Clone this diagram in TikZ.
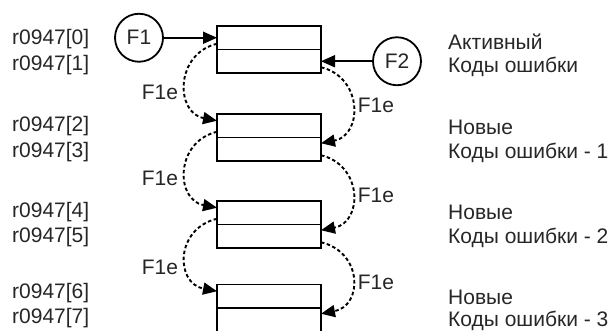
\documentclass[tikz,border=0pt]{standalone}
\usepackage{fontspec}
\setmainfont{Liberation Sans}
\usetikzlibrary{arrows.meta}
\begin{document}
\begin{tikzpicture}[x=1pt,y=-1pt,
  half/.style={draw, line width=1.9pt, minimum width=104pt, minimum height=23.5pt, inner sep=0pt, outer sep=0pt},
  src/.style={draw, circle, line width=1.8pt, minimum size=48pt, inner sep=0pt, font=\fontsize{21}{25}\selectfont, text=black!85},
  lbl/.style={font=\fontsize{21}{25}\selectfont, anchor=west, inner sep=0pt, text=black!85},
  fe/.style={font=\fontsize{21}{25}\selectfont, inner sep=0pt, text=black!85},
  tip/.style={-{Triangle[length=14pt,width=12pt]}, line width=1.8pt},
  dtip/.style={tip, line width=1.9pt, dash pattern=on 3.5pt off 2.5pt}
]
\useasboundingbox (0,0) rectangle (615,331);
\clip (0,0) rectangle (615,331);
\foreach \t [count=\i] in {26,114,201,284.5} {
  \node[half] (b\i u) at (269,\t+11.75) {};
  \node[half] (b\i l) at (269,\t+35.25) {};
}
\node[src] (F1) at (139,37.75) {F1};
\node[src] (F2) at (397,61.25) {F2};
\draw[tip] (F1.east) -- (b1u.west);
\draw[tip] (F2.west) -- (b1l.east);
\foreach \i/\j in {1/2,2/3,3/4} {
  \draw[dtip] ([yshift=-6pt]b\i u.west) .. controls +(-42,10) and +(-42,-8) .. ([yshift=5pt]b\j u.west);
  \draw[dtip] ([yshift=-6pt]b\i l.east) .. controls +(42,10) and +(42,-8) .. ([yshift=6pt]b\j l.east);
}
\node[fe] (e1) at (160,92) {F1e};
\node[fe] (e2) at (160,178) {F1e};
\node[fe] (e3) at (160,267) {F1e};
\node[fe] (e4) at (376,105) {F1e};
\node[fe] (e5) at (376,195) {F1e};
\node[fe] (e6) at (376,282) {F1e};
\node[lbl] (r0) at (12,39) {r0947[0]};
\node[lbl] (r1) at (12,65) {r0947[1]};
\node[lbl] (r2) at (12,126) {r0947[2]};
\node[lbl] (r3) at (12,152) {r0947[3]};
\node[lbl] (r4) at (12,212) {r0947[4]};
\node[lbl] (r5) at (12,237) {r0947[5]};
\node[lbl] (r6) at (12,293) {r0947[6]};
\node[lbl] (r7) at (12,318) {r0947[7]};
\node[lbl] (t1) at (448,42) {Активный};
\node[lbl] (t2) at (448,67) {Коды ошибки};
\node[lbl] (t3) at (448,127) {Новые};
\node[lbl] (t4) at (448,153) {Коды ошибки - 1};
\node[lbl] (t5) at (448,212) {Новые};
\node[lbl] (t6) at (448,238) {Коды ошибки - 2};
\node[lbl] (t7) at (448,297) {Новые};
\node[lbl] (t8) at (448,321) {Коды ошибки - 3};
\end{tikzpicture}
\end{document}
